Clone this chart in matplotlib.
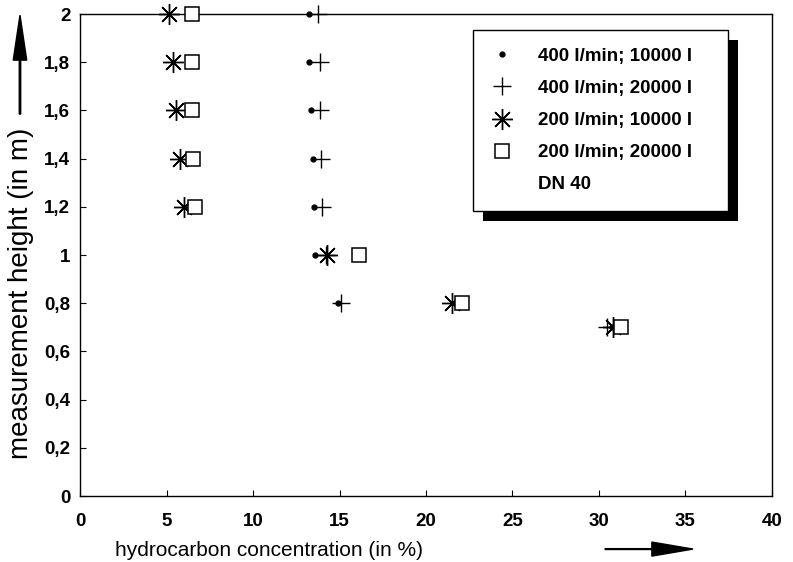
import matplotlib.pyplot as plt
from matplotlib.lines import Line2D
from matplotlib.patches import Rectangle, FancyArrow
from matplotlib.ticker import FuncFormatter

plt.rcParams['font.family'] = ['Liberation Sans']

heights = [2.0, 1.8, 1.6, 1.4, 1.2, 1.0, 0.8, 0.7]

# hydrocarbon concentration (%) for each run
conc_400_10000 = [13.25, 13.25, 13.35, 13.45, 13.55, 13.6, 14.9, 30.75]
conc_400_20000 = [13.75, 13.9, 13.9, 13.95, 14.0, 14.2, 15.1, 30.45]
conc_200_10000 = [5.15, 5.4, 5.55, 5.8, 6.0, 14.25, 21.5, 30.8]
conc_200_20000 = [6.5, 6.5, 6.5, 6.55, 6.65, 16.1, 22.1, 31.25]

labels = ['400 l/min; 10000 l', '400 l/min; 20000 l',
          '200 l/min; 10000 l', '200 l/min; 20000 l']

fig = plt.figure(figsize=(7.93, 5.62), dpi=100)
ax = fig.add_axes([0.1009, 0.1174, 0.8726, 0.8576])

asterisk = (8, 2, 0)
styles = [
    dict(marker='o', ms=3.5, mfc='k', mec='k'),
    dict(marker='+', ms=13, mew=1.0, mec='k'),
    dict(marker=asterisk, ms=15, mew=1.0, mec='k'),
    dict(marker='s', ms=10, mfc='white', mec='k', mew=1.1),
]
series = [conc_400_10000, conc_400_20000, conc_200_10000, conc_200_20000]
handles = []
for xs, st, lab in zip(series, styles, labels):
    h, = ax.plot(xs, heights, ls='none', label=lab, clip_on=False, zorder=3, **st)
    handles.append(h)

ax.set_xlim(0, 40)
ax.set_ylim(0, 2)
ax.set_xticks(range(0, 41, 5))
ax.set_yticks([0, 0.2, 0.4, 0.6, 0.8, 1.0, 1.2, 1.4, 1.6, 1.8, 2.0])
ax.yaxis.set_major_formatter(FuncFormatter(lambda v, p: ('%g' % round(v, 1)).replace('.', ',')))
ax.tick_params(direction='in', length=4, width=0.8, labelsize=13.5,
               top=False, right=False)
ax.tick_params(axis='x', pad=12)
ax.tick_params(axis='y', pad=7)
for lab in ax.get_xticklabels() + ax.get_yticklabels():
    lab.set_fontweight('bold')
for sp in ax.spines.values():
    sp.set_linewidth(1.0)

ax.set_xlabel('hydrocarbon concentration (in %)', fontsize=15)
ax.set_ylabel('measurement height (in m)', fontsize=20)
ax.xaxis.set_label_coords(0.273, -0.093)
ax.yaxis.set_label_coords(-0.066, 0.42)

# direction arrows next to the axis titles
fig.patches.append(FancyArrow(
    0.763, 0.023, 0.111, 0, width=0.0015, head_width=0.025, head_length=0.052,
    length_includes_head=True, color='k', transform=fig.transFigure))
fig.patches.append(FancyArrow(
    0.0252, 0.797, 0, 0.176, width=0.0018, head_width=0.017, head_length=0.08,
    length_includes_head=True, color='k', transform=fig.transFigure))

handles.append(Line2D([], [], ls='none', marker='none'))
leg = ax.legend(handles, labels + ['DN 40'], loc='upper left',
                bbox_to_anchor=(0.568, 0.608, 0.368, 0.359), mode='expand',
                frameon=True, fancybox=False,
                edgecolor='k', framealpha=1, borderpad=0.95, labelspacing=0.8,
                handlelength=1.2, handletextpad=1.3, borderaxespad=0,
                prop={'weight': 'bold', 'size': 13.5})
leg.get_frame().set_linewidth(1.0)
leg.set_zorder(5)

fig.canvas.draw()
bb = leg.get_window_extent().transformed(fig.transFigure.inverted())
shadow = Rectangle((bb.x0 + 0.0126, bb.y0 - 0.0178), bb.width, bb.height,
                   transform=fig.transFigure, facecolor='k', edgecolor='none',
                   zorder=4)
ax.add_artist(shadow)
shadow.set_clip_on(False)

fig.savefig('out.png', dpi=100)
